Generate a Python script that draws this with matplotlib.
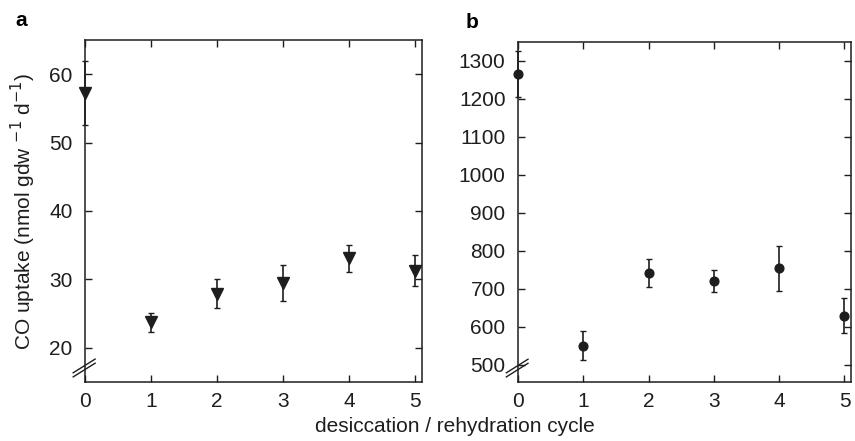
import numpy as np
import matplotlib
matplotlib.use("Agg")
import matplotlib.pyplot as plt

plt.rcParams['font.family'] = ['Liberation Sans', 'DejaVu Sans']

cycles = [0, 1, 2, 3, 4, 5]

# panel a
uptake_a = [57.3, 23.7, 27.9, 29.5, 33.1, 31.3]
err_a = [4.7, 1.4, 2.1, 2.6, 2.0, 2.2]

# panel b
uptake_b = [1266, 550, 742, 721, 754, 630]
err_b = [60, 38, 37, 28, 60, 46]

ink = '#1e1e1e'

fig = plt.figure(figsize=(8.55, 4.41), dpi=100)
ax1 = fig.add_axes([85/855, 1 - 382/441, 337/855, 342/441])
ax2 = fig.add_axes([518/855, 1 - 382/441, 333/855, 340/441])

ax1.errorbar(cycles, uptake_a, yerr=err_a, fmt='v', color=ink, ms=8,
             capsize=2.5, elinewidth=1.2, capthick=1.0, clip_on=False)
ax2.errorbar(cycles, uptake_b, yerr=err_b, fmt='o', color=ink, ms=6.3,
             capsize=2.5, elinewidth=1.2, capthick=1.0, clip_on=False)

ax1.set_xlim(0, 5.1)
ax1.set_ylim(15, 65)
ax1.set_yticks([20, 30, 40, 50, 60])
ax2.set_xlim(0, 5.1)
ax2.set_ylim(455, 1350)
ax2.set_yticks(np.arange(500, 1301, 100))

for ax in (ax1, ax2):
    ax.set_xticks(cycles)
    ax.tick_params(direction='in', top=True, right=True, length=5,
                   width=1.0, colors=ink, labelsize=15)
    ax.tick_params(axis='x', pad=7)
    ax.tick_params(axis='y', pad=9)
    for s in ax.spines.values():
        s.set_color(ink)
        s.set_linewidth(1.1)
    # axis break marks
    for dy in (0, 0.012):
        ax.plot([-0.035, 0.03], [0.015 + dy, 0.055 + dy], transform=ax.transAxes,
                color=ink, lw=1.0, clip_on=False)

ax1.set_ylabel('CO uptake (nmol gdw $^{\\mathrm{-1}}$ d$^{\\mathrm{-1}}$)',
               fontsize=15, color=ink, labelpad=8)
fig.text(455/855, 1 - 427/441, 'desiccation / rehydration cycle', ha='center',
         va='center', fontsize=15, color=ink)

fig.text(15/855, 1 - 21/441, 'a', fontsize=15, fontweight='bold', va='center')
fig.text(29/855 + 437/855, 1 - 23/441, 'b', fontsize=15, fontweight='bold',
         va='center')

fig.savefig('out.png', dpi=100)
